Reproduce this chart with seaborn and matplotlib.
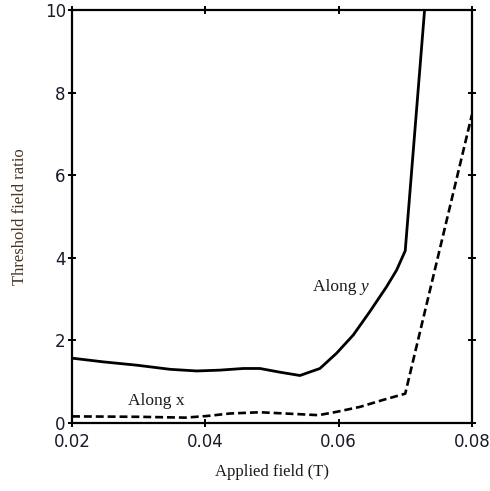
import numpy as np
import pandas as pd
import matplotlib
matplotlib.use("Agg")
import matplotlib.pyplot as plt
import seaborn as sns

# Along y (solid)
field_y = [0.0200, 0.0247, 0.0297, 0.0347, 0.0387, 0.0422, 0.0457, 0.0482,
           0.0512, 0.0542, 0.0572, 0.0597, 0.0622, 0.0647, 0.0672, 0.0687,
           0.0700, 0.0740]
ratio_y = [1.57, 1.48, 1.40, 1.30, 1.26, 1.28, 1.32, 1.32,
           1.23, 1.15, 1.32, 1.69, 2.13, 2.70, 3.30, 3.70,
           4.17, 12.2]

# Along x (dashed)
field_x = [0.0200, 0.0300, 0.0370, 0.0403, 0.0437, 0.0482, 0.0532, 0.0570,
           0.0597, 0.0632, 0.0667, 0.0700, 0.0800]
ratio_x = [0.16, 0.15, 0.13, 0.17, 0.23, 0.26, 0.22, 0.19,
           0.27, 0.39, 0.56, 0.71, 7.46]

x_ticks = [0.02, 0.04, 0.06, 0.08]
x_tick_labels = ["0.02", "0.04", "0.06", "0.08"]
y_ticks = [0, 2, 4, 6, 8, 10]

df = pd.concat([
    pd.DataFrame({"field": field_y, "ratio": ratio_y, "dir": "y"}),
    pd.DataFrame({"field": field_x, "ratio": ratio_x, "dir": "x"}),
])

sns.set_theme(style="white")
plt.rcParams["font.family"] = ["DejaVu Sans"]

fig = plt.figure(figsize=(4.90, 4.91), dpi=100)
ax = fig.add_axes([0.147, 0.1385, 0.816, 0.8411])

sns.lineplot(data=df[df["dir"] == "y"], x="field", y="ratio", ax=ax,
             color="black", linewidth=2.0, sort=False, estimator=None)
sns.lineplot(data=df[df["dir"] == "x"], x="field", y="ratio", ax=ax,
             color="black", linewidth=1.9, sort=False, estimator=None,
             linestyle=(0, (3.0, 1.5)))

ax.set_xlim(0.02, 0.08)
ax.set_ylim(0, 10)
ax.set_xticks(x_ticks)
ax.set_xticklabels(x_tick_labels)
ax.set_yticks(y_ticks)
ax.set_yticklabels([str(v) for v in y_ticks])

for s in ax.spines.values():
    s.set_visible(True)
    s.set_color("black")
    s.set_linewidth(1.6)

ax.tick_params(direction="inout", length=6, width=1.4, colors="black",
               labelcolor="#1a1a28", labelsize=12, pad=1.5,
               top=True, right=True, bottom=True, left=True,
               labeltop=False, labelright=False)
ax.tick_params(axis="x", pad=4.5)

ax.set_xlabel("Applied field (T)", family="Liberation Serif", fontsize=12,
              color="#1a1a1a", labelpad=9)
ax.set_ylabel("Threshold field ratio", family="Liberation Serif", fontsize=12,
              color="#4a3422", labelpad=12)

ax.text(0.0633, 3.29, "Along ", family="Liberation Serif", fontsize=12.5,
        ha="right", va="center", color="#1a1a1a")
ax.text(0.0633, 3.29, "y", family="Liberation Serif", style="italic", fontsize=12.5,
        ha="left", va="center", color="#1a1a1a")
ax.text(0.0326, 0.53, "Along x", family="Liberation Serif", fontsize=12.5,
        ha="center", va="center", color="#1a1a1a")

fig.savefig("out.png", dpi=100, facecolor="white")
